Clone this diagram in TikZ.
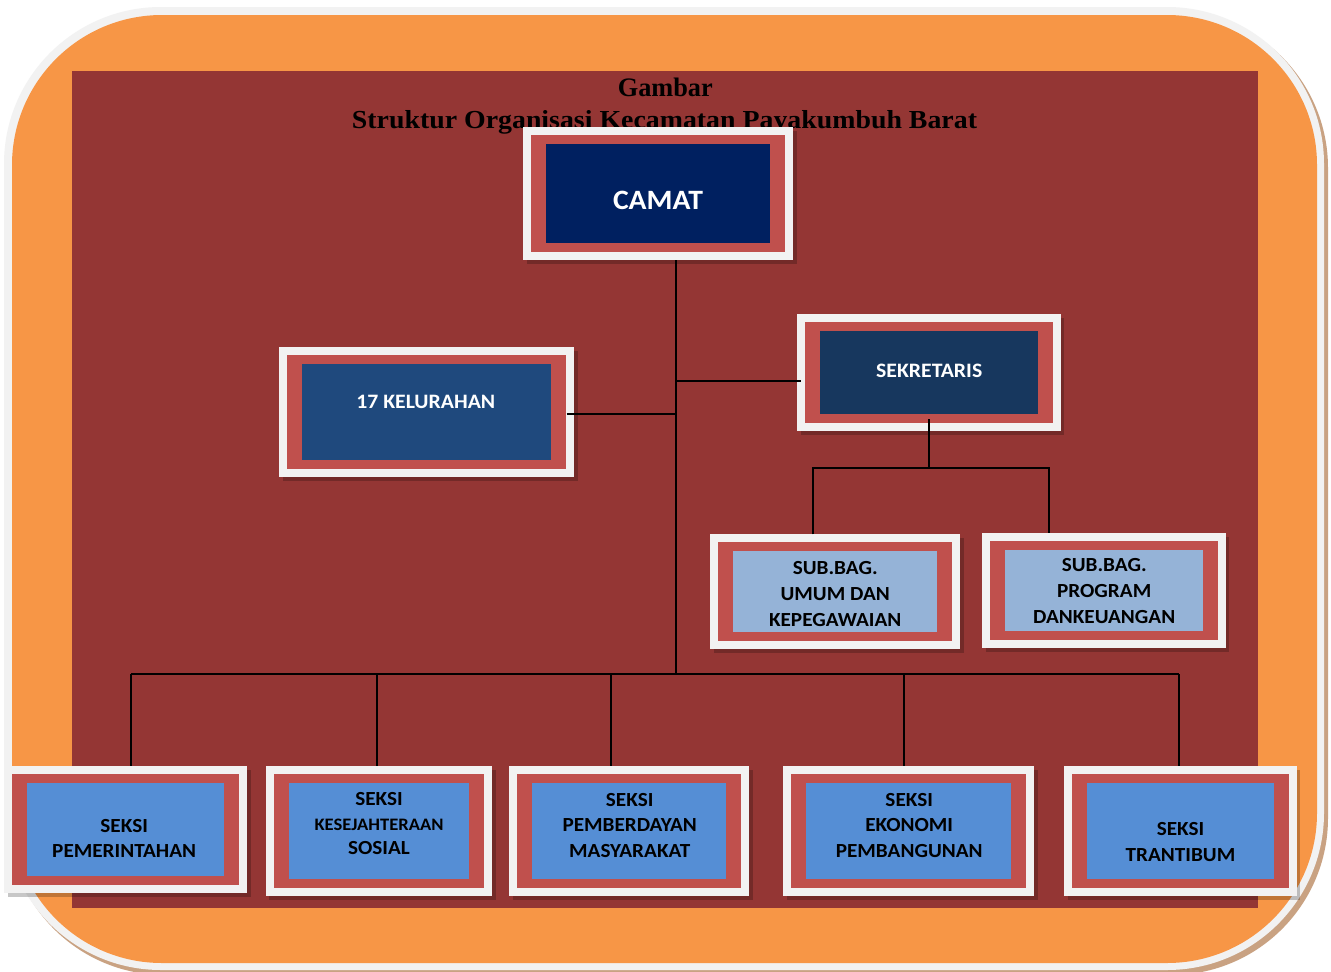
\documentclass[tikz,border=0pt]{standalone}
\usepackage{graphicx}
\usepackage{fontspec}
\setmainfont{Liberation Serif}
\newfontfamily\calib{Carlito}
\usetikzlibrary{shadows,fit}
\definecolor{orangebg}{HTML}{F79646}
\definecolor{rimgray}{HTML}{F2F2F2}
\definecolor{panelred}{HTML}{943634}
\definecolor{boxred}{HTML}{C0504D}
\definecolor{camatblue}{HTML}{002060}
\definecolor{kelblue}{HTML}{1F497D}
\definecolor{sekblue}{HTML}{17375E}
\definecolor{subblue}{HTML}{95B3D7}
\definecolor{seksiblue}{HTML}{558ED5}
\definecolor{outershadow}{HTML}{C9A282}
\tikzset{
  frame/.style={fill=rimgray, inner sep=0pt, outer sep=0pt, draw=none,
    drop shadow={shadow xshift=3.5pt, shadow yshift=-4pt, opacity=0.22, fill=black}},
  conn/.style={draw=black, line width=1.9pt},
  lbl/.style={align=center, inner sep=0pt, yshift=-2.5pt},
}
\newcommand\orgbox[4]{%
  \node[frame, fit={#2 #3}] (#1) {};
  \fill[boxred] ([shift={(8pt,-8pt)}]#1.north west) rectangle ([shift={(-8pt,8pt)}]#1.south east);
  \fill[#4] ([shift={(23pt,-17pt)}]#1.north west) rectangle ([shift={(-23pt,17pt)}]#1.south east);
}
\newcommand\wtext[1]{\scalebox{1.06}[1]{\begin{tabular}{@{}c@{}}#1\end{tabular}}}
\begin{document}
\begin{tikzpicture}[x=1pt,y=-1pt]
\useasboundingbox (0,0) rectangle (1331,972);
\fill[white] (0,0) rectangle (1331,972);
% outer rounded frame
\fill[outershadow, rounded corners=157pt] (8,11) rectangle (1328,975);
\fill[rimgray, rounded corners=157pt] (4,7) rectangle (1324,970);
\fill[orangebg, rounded corners=150pt] (12,15) rectangle (1317,963);
\fill[panelred] (72,71) rectangle (1257.5,907.5);
% title
\node[anchor=base, inner sep=0pt] (title1) at (665.3,96.7) {\resizebox{95pt}{18.5pt}{\bfseries Gambar}};
\node[anchor=base, inner sep=0pt] (title2) at (664.5,128) {\resizebox{625pt}{18pt}{\bfseries Struktur Organisasi Kecamatan Payakumbuh Barat}};
% connectors
\coordinate (trunk) at (676,260);
\coordinate (busL) at (131,674);
\coordinate (busR) at (1179,674);
\coordinate (d2) at (377,674);
\coordinate (d3) at (611,674);
\coordinate (d4) at (904,674);
\coordinate (sekj) at (680,381);
\coordinate (subL) at (813,468);
\coordinate (subR) at (1049,468);
% boxes
\orgbox{camat}{(523.3,126.7)}{(793.3,260)}{camatblue}
\orgbox{kel}{(279.3,346.7)}{(574,476.7)}{kelblue}
\orgbox{sek}{(797.3,314.3)}{(1060.7,430.7)}{sekblue}
\orgbox{umum}{(710,534.3)}{(960,649.3)}{subblue}
\orgbox{prog}{(982.4,532.7)}{(1225.8,648.3)}{subblue}
\orgbox{s1}{(4,766)}{(247.3,893.3)}{seksiblue}
\orgbox{s2}{(265.7,766)}{(492.3,895.7)}{seksiblue}
\orgbox{s3}{(509.3,766.3)}{(749.3,895.7)}{seksiblue}
\orgbox{s4}{(783.3,766.3)}{(1034,895.7)}{seksiblue}
\orgbox{s5}{(1064,766)}{(1296.7,895.7)}{seksiblue}
% lines
\draw[conn] (trunk) -- (trunk |- busL);
\draw[conn] (busL) -- (busR);
\draw[conn] (busL) -- (busL |- s1.north);
\draw[conn] (d2) -- (d2 |- s2.north);
\draw[conn] (d3) -- (d3 |- s3.north);
\draw[conn] (d4) -- (d4 |- s4.north);
\draw[conn] (busR) -- (busR |- s5.north);
\draw[conn] ([shift={(-7.3pt,-2.3pt)}]kel.east) coordinate (kelj) -- (kelj -| trunk);
\draw[conn] (trunk |- sekj) -- ([xshift=4pt]sek.west |- sekj);
\draw[conn] ([yshift=11.7pt]sek.south) -- (sek.south |- subL);
\draw[conn] (subL |- umum.north) -- (subL) -- (subR) -- (subR |- prog.north);
% labels
\node[lbl, text=white, font=\calib\bfseries\fontsize{28}{34}\selectfont] (camat-t) at (658,200) {\wtext{CAMAT}};
\node[lbl, text=white, font=\calib\bfseries\fontsize{20.5}{25}\selectfont] (kel-t) at (425.8,400.7) {\wtext{17 KELURAHAN}};
\node[lbl, text=white, font=\calib\bfseries\fontsize{20.5}{25}\selectfont] (sek-t) at (929.2,370.3) {\wtext{SEKRETARIS}};
\node[lbl, font=\calib\bfseries\fontsize{20}{26}\selectfont] (umum-t) at (835.2,592.8) {\wtext{SUB.BAG.\\UMUM DAN\\KEPEGAWAIAN}};
\node[lbl, font=\calib\bfseries\fontsize{20}{26}\selectfont] (prog-t) at (1104.2,590) {\wtext{SUB.BAG.\\PROGRAM\\DANKEUANGAN}};
\node[lbl, font=\calib\bfseries\fontsize{20}{25.5}\selectfont] (s1-t) at (124.2,837.5) {\wtext{SEKSI\\PEMERINTAHAN}};
\node[lbl, font=\calib\bfseries\fontsize{20}{24.5}\selectfont] (s2-t) at (379,822.8) {\wtext{SEKSI\\{\fontsize{17.5}{24.5}\selectfont KESEJAHTERAAN}\\SOSIAL}};
\node[lbl, font=\calib\bfseries\fontsize{20}{25.5}\selectfont] (s3-t) at (629.7,824.3) {\wtext{SEKSI\\PEMBERDAYAN\\MASYARAKAT}};
\node[lbl, font=\calib\bfseries\fontsize{20}{25.5}\selectfont] (s4-t) at (909.2,824.3) {\wtext{SEKSI\\EKONOMI\\PEMBANGUNAN}};
\node[lbl, font=\calib\bfseries\fontsize{20}{25.5}\selectfont] (s5-t) at (1180.5,840.8) {\wtext{SEKSI\\TRANTIBUM}};
\end{tikzpicture}
\end{document}
